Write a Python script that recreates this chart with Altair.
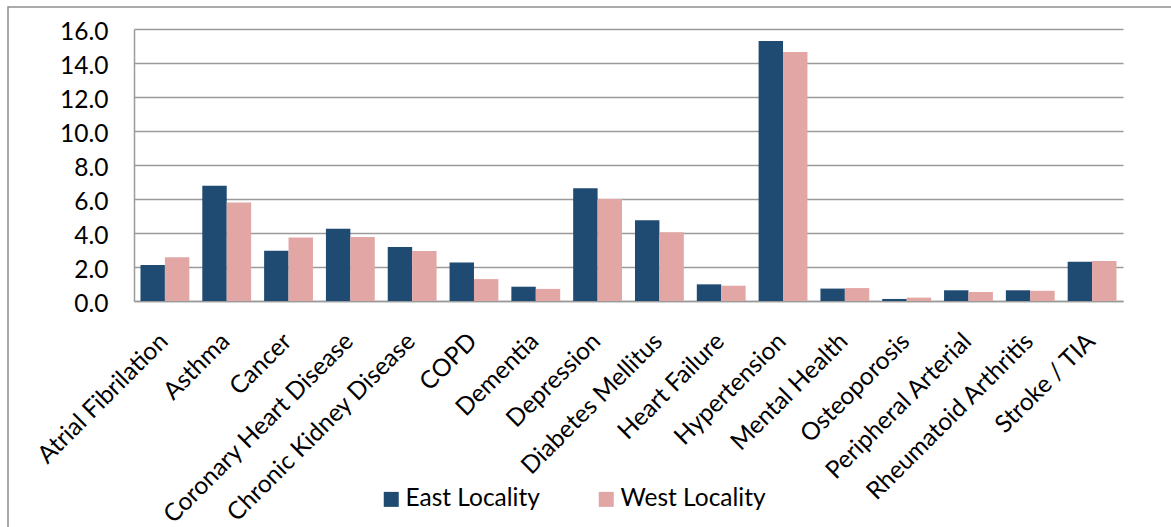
import altair as alt
import pandas as pd

# Prevalence by condition for the two localities
conditions = [
    "Atrial Fibrilation", "Asthma", "Cancer", "Coronary Heart Disease",
    "Chronic Kidney Disease", "COPD", "Dementia", "Depression",
    "Diabetes Mellitus", "Heart Failure", "Hypertension", "Mental Health",
    "Osteoporosis", "Peripheral Arterial", "Rheumatoid Arthritis", "Stroke / TIA",
]
east = [2.12, 6.78, 2.96, 4.25, 3.18, 2.27, 0.84, 6.63, 4.75, 0.98, 15.29, 0.73, 0.12, 0.63, 0.63, 2.31]
west = [2.57, 5.80, 3.73, 3.76, 2.94, 1.29, 0.71, 6.00, 4.04, 0.90, 14.65, 0.76, 0.20, 0.53, 0.60, 2.35]
series = ["East Locality", "West Locality"]
colors = ["#1F4A72", "#E2A6A5"]
y_ticks = [0, 2, 4, 6, 8, 10, 12, 14, 16]

rows = []
for c, e, w in zip(conditions, east, west):
    rows.append({"Condition": c, "Locality": series[0], "Value": e})
    rows.append({"Condition": c, "Locality": series[1], "Value": w})
df = pd.DataFrame(rows)

FONT = "Lato"
FS = 24.5
GRID = "#9a9a9a"

bars = alt.Chart(df).mark_bar().encode(
    x=alt.X(
        "Condition:N",
        sort=conditions,
        title=None,
        scale=alt.Scale(paddingInner=0.21, paddingOuter=0.105),
        axis=alt.Axis(
            labelAngle=315,
            labelAlign="right",
            labelBaseline="top",
            labelPadding=28,
            labelOffset=-9,
            labelFont=FONT,
            labelFontSize=FS,
            labelColor="#000000",
            labelLimit=0,
            ticks=False,
            domainColor=GRID,
            domainWidth=1.5,
            grid=False,
            labelOverlap=False,
        ),
    ),
    xOffset=alt.XOffset(
        "Locality:N",
        sort=series,
        scale=alt.Scale(paddingInner=0, paddingOuter=0),
    ),
    y=alt.Y(
        "Value:Q",
        title=None,
        scale=alt.Scale(domain=[0, 16], nice=False),
        axis=alt.Axis(
            values=y_ticks,
            format=".1f",
            labelFont=FONT,
            labelFontSize=FS,
            labelColor="#000000",
            labelPadding=26,
            labelOffset=3,
            ticks=False,
            domainColor=GRID,
            domainWidth=1.5,
            gridColor=GRID,
            gridWidth=1.5,
        ),
    ),
    color=alt.Color(
        "Locality:N",
        sort=series,
        scale=alt.Scale(domain=series, range=colors),
        legend=alt.Legend(
            title=None,
            orient="none",
            direction="horizontal",
            legendX=245,
            legendY=458,
            symbolType="square",
            symbolSize=225,
            symbolStrokeWidth=0,
            labelFont=FONT,
            labelFontSize=FS,
            labelColor="#000000",
            labelOffset=2,
            labelLimit=0,
            columnPadding=54,
        ),
    ),
)

# thin grey frame around the whole chart
frame = alt.Chart(pd.DataFrame({"k": [0]})).mark_rect(
    fillOpacity=0, stroke="#8e8e8e", strokeWidth=1.5
).encode(
    x=alt.value(-126), y=alt.value(-22), x2=alt.value(1060), y2=alt.value(520)
)

chart = alt.layer(bars, frame).properties(
    width=989,
    height=272,
    autosize=alt.AutoSizeParams(type="none"),
    padding={"left": 134, "top": 29, "right": 48, "bottom": 226},
    background="#ffffff",
).configure_view(stroke=None)

chart.save("out.html", embed_options={"renderer": "svg", "actions": False})
